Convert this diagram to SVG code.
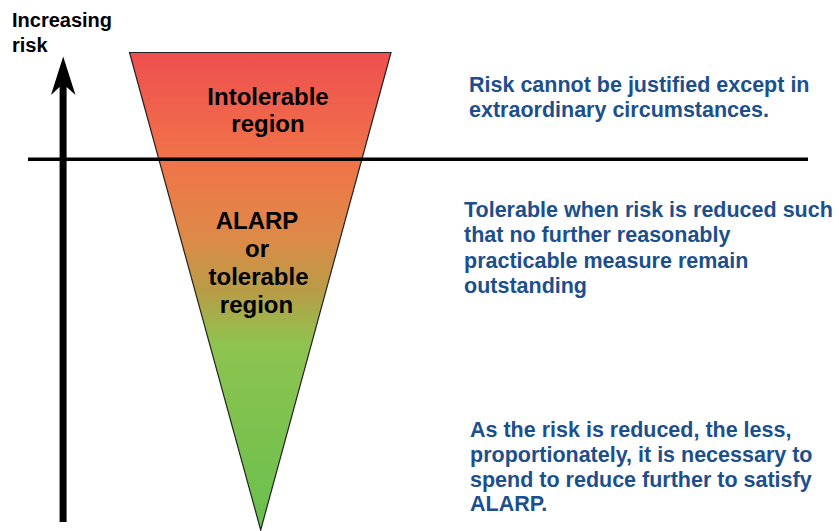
<svg xmlns="http://www.w3.org/2000/svg" width="839" height="531" viewBox="0 0 839 531">
  <style>
    .lbl { font-family: "Liberation Sans", Arial, sans-serif; font-weight: bold; fill: #000; }
    .big { font-size: 24px; text-anchor: middle; }
    .desc { font-family: "Liberation Sans", Arial, sans-serif; font-weight: bold; font-size: 21.5px; fill: #1c4f8c; }
  </style>
  <defs>
    <linearGradient id="riskGrad" gradientUnits="userSpaceOnUse" x1="0" y1="52" x2="0" y2="530">
      <stop offset="0" stop-color="#ee4f4f"/>
      <stop offset="0.23" stop-color="#f07449"/>
      <stop offset="0.39" stop-color="#dd8a48"/>
      <stop offset="0.5" stop-color="#b89c46"/>
      <stop offset="0.61" stop-color="#8ec450"/>
      <stop offset="1" stop-color="#69bf4d"/>
    </linearGradient>
  </defs>
  <rect width="839" height="531" fill="#ffffff"/>

  <g id="risk-triangle">
    <polygon points="129.5,52.5 391,52.5 260.7,530" fill="url(#riskGrad)" stroke="#222" stroke-width="1.2" stroke-linejoin="miter"/>
  </g>

  <g id="axis">
    <path d="M63.2,56.5 L75.5,95 L66.6,87 L66.6,522 L59.6,522 L59.6,87 L51,95 Z" fill="#000"/>
    <text class="lbl" x="12" y="27" font-size="20">Increasing</text>
    <text class="lbl" x="12" y="52" font-size="20">risk</text>
  </g>

  <g id="divider">
    <line x1="28" y1="159.3" x2="808" y2="159.3" stroke="#000" stroke-width="3.5"/>
  </g>

  <g id="intolerable-label">
    <text class="lbl big" x="268" y="104.5">Intolerable</text>
    <text class="lbl big" x="268" y="131.5">region</text>
  </g>

  <g id="alarp-label">
    <text class="lbl big" x="257" y="228.5">ALARP</text>
    <text class="lbl big" x="257" y="256.5">or</text>
    <text class="lbl big" x="258.5" y="285">tolerable</text>
    <text class="lbl big" x="256.5" y="313">region</text>
  </g>

  <g id="intolerable-desc">
    <text class="desc" x="469" y="92.3">Risk cannot be justified except in</text>
    <text class="desc" x="469" y="117.3">extraordinary circumstances.</text>
  </g>

  <g id="alarp-desc">
    <text class="desc" x="464" y="216.7">Tolerable when risk is reduced such</text>
    <text class="desc" x="464" y="242">that no further reasonably</text>
    <text class="desc" x="464" y="267.7">practicable measure remain</text>
    <text class="desc" x="464" y="293.3">outstanding</text>
  </g>

  <g id="broadly-desc">
    <text class="desc" x="470" y="436.7">As the risk is reduced, the less,</text>
    <text class="desc" x="470" y="461.7">proportionately, it is necessary to</text>
    <text class="desc" x="470" y="486.5">spend to reduce further to satisfy</text>
    <text class="desc" x="470" y="511">ALARP.</text>
  </g>
</svg>
